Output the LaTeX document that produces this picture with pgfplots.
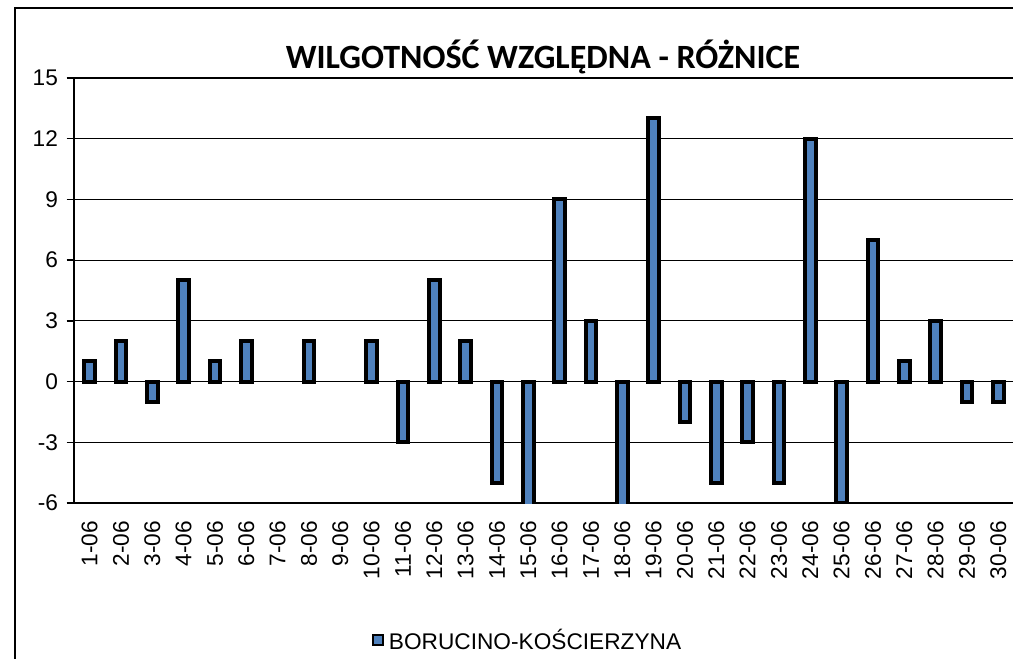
\documentclass[border=0pt]{standalone}
\usepackage{pgfplots}
\pgfplotsset{compat=1.18}
\usepackage{fontspec}
\setmainfont{Liberation Sans}
\newfontfamily\titlefont{Carlito}
\definecolor{barblue}{RGB}{79,129,189}
\begin{document}
\begin{tikzpicture}
\useasboundingbox (0,0) rectangle (759.75pt,493.5pt);
\fill[white] (0,0) rectangle (759.75pt,493.5pt);
\draw[line width=0.9pt] (11.25pt,-5pt) -- (11.25pt,487.5pt) -- (770pt,487.5pt);
\begin{axis}[
  at={(55.5pt,116.25pt)}, anchor=south west, scale only axis,
  width=705pt, height=318.75pt,
  xmin=0.5, xmax=30.5, ymin=-6, ymax=15,
  axis x line*=bottom, axis y line*=left,
  axis line style={line width=1.1pt, black},
  ytick={-6,-3,0,3,6,9,12,15},
  xtick={1,...,30},
  xticklabels={1-06,2-06,3-06,4-06,5-06,6-06,7-06,8-06,9-06,10-06,11-06,12-06,13-06,14-06,15-06,16-06,17-06,18-06,19-06,20-06,21-06,22-06,23-06,24-06,25-06,26-06,27-06,28-06,29-06,30-06},
  minor xtick={0.5,1.5,...,30.5},
  tick align=outside,
  x tick style={draw=none},
  minor x tick style={black, line width=1pt},
  minor tick length=4.5pt,
  y tick style={black, line width=1pt},
  major tick length=5.5pt,
  ymajorgrids, major grid style={black, line width=0.8pt},
  /pgf/number format/assume math mode=true,
  ticklabel style={font=\fontsize{17}{20}\selectfont},
  yticklabel style={xshift=-3pt},
  xticklabel style={rotate=90, anchor=east},
  xticklabel shift=4.5pt,
  legend style={at={(rel axis cs:0.3125,-0.322)}, anchor=west, draw=none, fill=none,
    font=\fontsize{17}{20}\selectfont},
  legend cell align=left,
]
\addplot[ybar, bar width=8.2pt, fill=barblue, draw=black, line width=3pt,
  legend image code/.code={\draw[fill=barblue, draw=black, line width=1.8pt] (0pt,-3.7pt) rectangle (7.4pt,3.7pt);}]
coordinates {
(1,1) (2,2) (3,-1) (4,5) (5,1) (6,2) (8,2) (10,2)
(11,-3) (12,5) (13,2) (14,-5) (15,-7) (16,9) (17,3) (18,-7) (19,13) (20,-2)
(21,-5) (22,-3) (23,-5) (24,12) (25,-6) (26,7) (27,1) (28,3) (29,-1) (30,-1)
};
\addlegendentry{\hspace{1.5pt}BORUCINO-KOŚCIERZYNA}
\end{axis}
\node at (407.25pt,450.75pt) {\titlefont\bfseries\fontsize{25.5}{30}\selectfont WILGOTNOŚĆ WZGLĘDNA - RÓŻNICE};
\end{tikzpicture}
\end{document}
